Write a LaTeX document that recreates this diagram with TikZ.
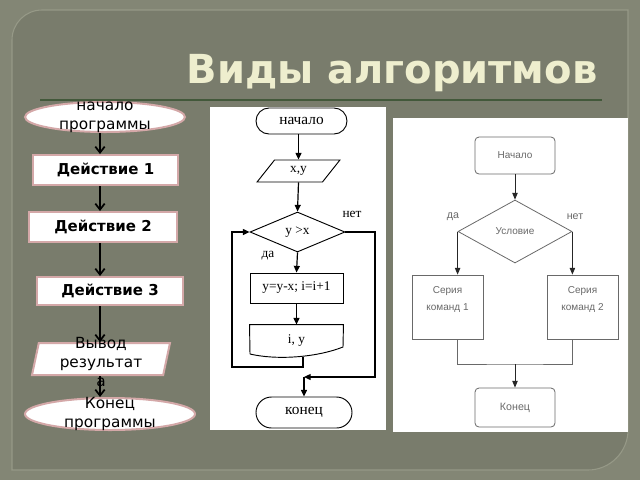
\documentclass[tikz,border=0pt]{standalone}
\usepackage{fontspec}
\setmainfont{DejaVu Sans}
\newfontfamily\flowserif{Liberation Serif}
\newfontfamily\flowsans{Liberation Sans}
\usetikzlibrary{shapes.geometric,shapes.misc,arrows.meta}

\definecolor{slidebg}{RGB}{131,134,117}
\definecolor{slidepanel}{RGB}{121,124,108}
\definecolor{paneledge}{RGB}{150,153,135}
\definecolor{titlecol}{RGB}{238,238,206}
\definecolor{titleline}{RGB}{66,88,58}
\definecolor{pinkline}{RGB}{212,168,168}
\definecolor{greyink}{RGB}{105,105,105}

\tikzset{
  pinkbox/.style={rectangle, draw=pinkline, line width=1.5pt, fill=white, inner sep=0pt,
    font=\bfseries\fontsize{11.25}{13}\selectfont},
  pinkoval/.style={ellipse, draw=pinkline, line width=1.5pt, fill=white, inner sep=1pt},
  pinkslant/.style={trapezium, draw=pinkline, line width=1.5pt, fill=white, inner sep=0pt},
  lefttext/.style={align=center, inner sep=0pt, font=\fontsize{11.5}{14.4}\selectfont},
  barb/.style={-{Straight Barb[length=4.5pt,width=7pt]}, line width=1.3pt},
  midshape/.style={draw, line width=0.7pt, inner sep=0pt, font=\flowserif\fontsize{10}{12}\selectfont},
  midword/.style={font=\flowserif\fontsize{11.5}{13}\selectfont},
  midarrow/.style={-{Triangle[length=5pt,width=4.5pt]}, line width=0.9pt},
  rightshape/.style={draw=greyink, line width=0.6pt, inner sep=1pt},
  righttext/.style={align=center, inner sep=0pt, text=greyink, font=\flowsans\fontsize{7.5}{12.75}\selectfont},
  rightarrow/.style={-{Triangle[length=5pt,width=4pt]}, line width=0.7pt, draw=black!85},
}

\begin{document}
\begin{tikzpicture}[x=0.75pt,y=-0.75pt]
\useasboundingbox (0,0) rectangle (640,480);
% slide background and panel
\fill[slidebg] (0,0) rectangle (640,480);
\filldraw[fill=slidepanel, draw=paneledge, line width=0.8pt]
  (12,470) -- (12,40) .. controls (12,23.4) and (25.4,10) .. (42,10) -- (628,10)
  -- (628,430) .. controls (628,452) and (610,470) .. (588,470) -- cycle;
\node[font=\bfseries\fontsize{30}{36}\selectfont, text=titlecol, anchor=base] (title) at (392,83) {Виды алгоритмов};
\draw[titleline, line width=1.5pt] (40,100) -- (602,100);

% left column
\coordinate (axis) at (100,0);
\node[pinkoval, minimum width=120pt, minimum height=22.5pt] (start) at (105,117) {};
\node[lefttext] (startlbl) at (start.center) {начало\\программы};
\node[pinkbox, minimum width=108.75pt, minimum height=22.5pt] (act1) at (105.5,170) {Действие 1};
\node[pinkbox, minimum width=111pt, minimum height=22.5pt] (act2) at (103,227) {Действие 2};
\node[pinkbox, minimum width=109.5pt, minimum height=21pt] (act3) at (110,291) {Действие 3};
\node[pinkslant, trapezium left angle=78, trapezium right angle=102,
  text width=93.3pt, text height=24pt, text depth=0pt] (output) at (101,359) {};
\node[pinkoval, minimum width=127.5pt, minimum height=24pt] (stop) at (110,414) {};
\draw[barb] (start.south -| axis) -- (act1.north -| axis);
\draw[barb] (act1.south -| axis) -- (act2.north -| axis);
\draw[barb] (act2.south -| axis) -- (act3.north -| axis);
\draw[barb] (act3.south -| axis) -- (output.north -| axis);
\draw[barb] (output.south -| axis) -- (stop.north -| axis);
\node[lefttext, font=\fontsize{11.5}{14.6}\selectfont] (outputlbl) at (101,362) {Вывод\\результат\\а};
\node[lefttext] (stoplbl) at (stop.center) {Конец\\программы};

% middle flowchart
\fill[white] (210,107) rectangle (386,430);
\node[midshape, midword, rounded rectangle, minimum width=68.25pt, minimum height=19.5pt] (mstart) at (301.5,121) {начало};
\node[midshape, trapezium, trapezium stretches=true, trapezium left angle=56, trapezium right angle=124,
  minimum width=62.25pt, minimum height=16.5pt] (input) at (298.5,171) {x,y};
\node[midshape, diamond, aspect=2.4, minimum width=71.25pt, minimum height=30pt] (cond) at (297.5,232) {y >x};
\node[midshape, minimum width=69.75pt, minimum height=22.5pt] (calc) at (296.5,288) {y=y-x; i=i+1};
\node[midshape, draw=none, minimum width=69.75pt, minimum height=24pt] (doc) at (296.5,341) {i, y};
\draw[line width=0.7pt] (250,354) -- (doc.north west) -- (doc.north east) -- (343,347)
  .. controls (315,358) and (275,360) .. (250,354);
\node[midshape, midword, rounded rectangle, minimum width=72pt, minimum height=23.25pt] (mend) at (304,412.5) {конец};
\node[font=\flowserif\fontsize{10}{12}\selectfont] (nolbl) at (352,214) {нет};
\node[font=\flowserif\fontsize{10}{12}\selectfont] (yeslbl) at (268,256) {да};
\coordinate (loopstart) at (303,357);
\coordinate (loopcorner) at (232,367);
\coordinate (noturn) at (375,377);
\coordinate (nojoin) at (304,377);
\draw[midarrow] (mstart.south -| input.north) -- (input.north);
\draw[midarrow] (input.south) -- (cond.north);
\draw[midarrow] (cond.south) -- (calc.north);
\draw[midarrow] (calc.south) -- (doc.north);
\draw[midarrow] (loopstart) |- (loopcorner) |- (cond.west);
\draw[midarrow] (cond.east) -| (noturn) |- (nojoin);
\draw[midarrow] (nojoin) -- (mend.north);

% right flowchart
\fill[white] (393,118) rectangle (628,432);
\node[rightshape, rectangle, rounded corners=3pt, minimum width=60pt, minimum height=27.75pt] (rstart) at (515,155.5) {};
\node[righttext] (rstartlbl) at (rstart.center) {Начало};
\node[rightshape, diamond, minimum width=85.5pt, minimum height=47.25pt] (rcond) at (515,231.5) {};
\node[righttext] (rcondlbl) at (rcond.center) {Условие};
\node[rightshape, minimum width=53.25pt, minimum height=48pt] (series1) at (447.5,307) {};
\node[righttext] (series1lbl) at ([yshift=5.5pt]series1.center) {Серия\\команд 1};
\node[rightshape, minimum width=53.25pt, minimum height=48pt] (series2) at (582.5,307) {};
\node[righttext] (series2lbl) at ([yshift=5.5pt]series2.center) {Серия\\команд 2};
\node[rightshape, rectangle, rounded corners=3pt, minimum width=60pt, minimum height=29.25pt] (rend) at (515,407.5) {};
\node[righttext, font=\flowsans\fontsize{8}{10}\selectfont] (rendlbl) at (rend.center) {Конец};
\node[righttext, font=\flowsans\fontsize{8}{10}\selectfont] (ryes) at (453,217) {да};
\node[righttext, font=\flowsans\fontsize{8}{10}\selectfont] (rno) at (575,217) {нет};
\coordinate (merge) at (515,364);
\draw[rightarrow] (rstart.south) -- (rcond.north);
\draw[rightarrow] (rcond.west) -- (rcond.west |- series1.north);
\draw[rightarrow] (rcond.east) -- (rcond.east |- series2.north);
\draw[line width=0.6pt, draw=greyink] (series1.south -| rcond.west) |- (merge) -| (series2.south -| rcond.east);
\draw[rightarrow] (merge) -- (rend.north);
\end{tikzpicture}
\end{document}
